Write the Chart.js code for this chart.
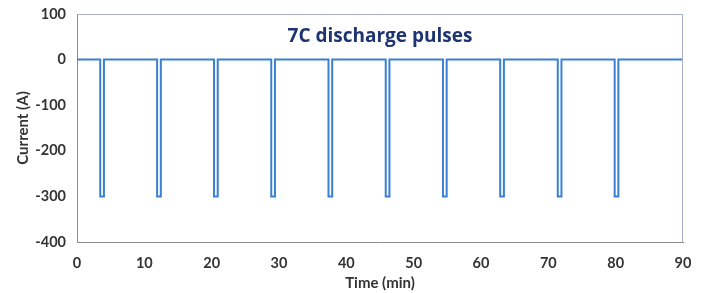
<!DOCTYPE html>
<html>
<head>
<meta charset="utf-8">
<script src="https://cdn.jsdelivr.net/npm/chart.js@4.4.1/dist/chart.umd.min.js"></script>
<style>
  html, body { margin: 0; padding: 0; background: #ffffff; }
  #wrap { width: 704px; height: 293px; }
</style>
</head>
<body>
<div id="wrap"><canvas id="pulse-chart" width="704" height="293"></canvas></div>
<script>
// Pulse timing (minutes)
const pulseStart = [3.45, 11.9, 20.35, 28.85, 37.35, 45.85, 54.35, 62.85, 71.4, 79.85];
const pulseEnd = [4.0, 12.45, 20.9, 29.4, 37.9, 46.4, 54.9, 63.4, 71.95, 80.4];
const pulseCurrent = -300;
const restCurrent = 0;
const timeRange = [0, 90];
const xTicks = [0, 10, 20, 30, 40, 50, 60, 70, 80, 90];
const yTicks = [100, 0, -100, -200, -300, -400];
const chartTitle = '7C discharge pulses';

// step trace built from the pulse table
const points = [{ x: timeRange[0], y: restCurrent }];
pulseStart.forEach((t, i) => {
    points.push({ x: t, y: restCurrent });
    points.push({ x: t, y: pulseCurrent });
    points.push({ x: pulseEnd[i], y: pulseCurrent });
    points.push({ x: pulseEnd[i], y: restCurrent });
});
points.push({ x: timeRange[1], y: restCurrent });

const tickFont = { family: 'Lato', size: 14.5, weight: 'bold' };
const axisTitleFont = { family: 'Lato', size: 15, weight: 'bold' };

// box on top/right + title inside the plot
const framePlugin = {
    id: 'frame',
    afterDraw(chart) {
        const { ctx, chartArea: a, scales } = chart;
        ctx.save();
        ctx.strokeStyle = '#a7adc4';
        ctx.lineWidth = 1;
        ctx.beginPath();
        ctx.moveTo(a.left, a.top + 0.5);
        ctx.lineTo(a.right - 0.5, a.top + 0.5);
        ctx.lineTo(a.right - 0.5, a.bottom);
        ctx.stroke();
        ctx.fillStyle = '#1d3471';
        ctx.font = 'bold 19px "Open Sans"';
        ctx.textAlign = 'center';
        ctx.textBaseline = 'middle';
        ctx.fillText(chartTitle, scales.x.getPixelForValue(45), scales.y.getPixelForValue(50));
        ctx.restore();
    }
};

new Chart(document.getElementById('pulse-chart'), {
    type: 'line',
    data: {
        datasets: [{
            data: points,
            borderColor: '#3b80d2',
            borderWidth: 2,
            pointRadius: 0,
            tension: 0,
            fill: false
        }]
    },
    options: {
        responsive: false,
        animation: false,
        layout: { padding: { left: 10, right: 21, top: 14, bottom: 0 } },
        plugins: { legend: { display: false }, tooltip: { enabled: false } },
        scales: {
            x: {
                type: 'linear',
                min: timeRange[0],
                max: timeRange[1],
                afterBuildTicks: (axis) => { axis.ticks = xTicks.map(v => ({ value: v })); },
                grid: { display: false },
                border: { color: '#8c8c8c', width: 1 },
                ticks: { color: '#333333', font: tickFont, padding: 5, maxRotation: 0 },
                title: { display: true, text: 'Time (min)', color: '#333333', font: axisTitleFont, padding: { top: 0, bottom: 1 } },
                afterFit: (axis) => { axis.height = 51; }
            },
            y: {
                min: -400,
                max: 100,
                afterBuildTicks: (axis) => { axis.ticks = yTicks.map(v => ({ value: v })); },
                grid: { display: false },
                border: { color: '#8c8c8c', width: 1 },
                ticks: { color: '#333333', font: tickFont, padding: 3 },
                title: { display: true, text: 'Current (A)', color: '#333333', font: axisTitleFont, padding: { bottom: 4 } },
                afterFit: (axis) => { axis.width = 67; }
            }
        }
    },
    plugins: [framePlugin]
});
</script>
</body>
</html>
